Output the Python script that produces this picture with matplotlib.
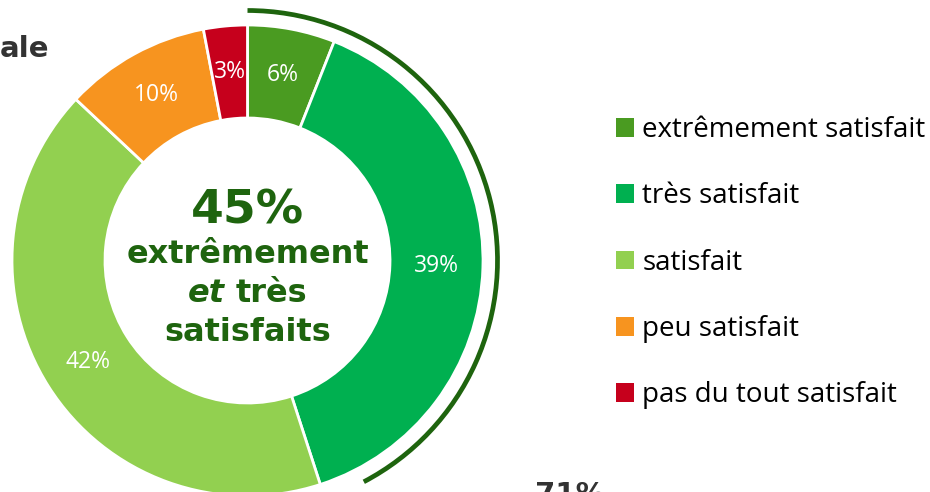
import matplotlib
matplotlib.use("Agg")
import matplotlib.pyplot as plt
from matplotlib.patches import Arc, Patch

# ---- data ----
categories = ["extrêmement satisfait", "très satisfait", "satisfait",
              "peu satisfait", "pas du tout satisfait"]
values = [6, 39, 42, 10, 3]
colors = ["#4A9B21", "#00B050", "#92D050", "#F7941F", "#C6001C"]
center_pct = "45%"
center_line1 = "extrêmement"
center_et = "et"
center_tres = "très"
center_line3 = "satisfaits"
title_fragment = "ale"
bottom_fragment = "71%"
arc_share = 42.3  # share of the circle covered by the highlight arc

W, H = 930, 492
fig = plt.figure(figsize=(W / 100, H / 100), dpi=100)
ax = fig.add_axes([0, 0, 1, 1])


def Y(y):
    return H - y


cx, cy = 247.5, Y(260.5)
R = 235.5
ring = 93
dark = "#1E640E"
gray = "#333333"

wedges, texts, autotexts = ax.pie(
    values, colors=colors, startangle=90, counterclock=False,
    radius=R, center=(cx, cy),
    wedgeprops=dict(width=ring, edgecolor="white", linewidth=2),
    autopct=lambda p: f"{p:.0f}%", pctdistance=189 / R,
    textprops=dict(color="white", fontsize=16.5, family="Open Sans"))
ax.set_xlim(0, W)
ax.set_ylim(0, H)
ax.set_aspect("equal")
ax.axis("off")

# highlight arc
ax.add_patch(Arc((cx, cy), 2 * 250, 2 * 250, theta1=90 - arc_share * 3.6,
                 theta2=90, color=dark, lw=3.4, capstyle="butt"))

# centre text
ctxt = dict(family="DejaVu Sans", weight="bold", color=dark, ha="center",
            va="baseline")
ax.text(cx, Y(223), center_pct, fontsize=34, **ctxt)
ax.text(cx, Y(263), center_line1, fontsize=23, **ctxt)
ax.text(cx, Y(341), center_line3, fontsize=23, **ctxt)
r = fig.canvas.get_renderer()
t_et = ax.text(0, Y(302), center_et, fontsize=23, family="DejaVu Sans",
               weight="bold", style="italic", color=dark, ha="left",
               va="baseline")
t_tr = ax.text(0, Y(302), center_tres, fontsize=23, family="DejaVu Sans",
               weight="bold", color=dark, ha="left", va="baseline")
w_et = t_et.get_window_extent(r).width
w_tr = t_tr.get_window_extent(r).width
gap = 0.33 * 23 * 100 / 72
x0 = cx - (w_et + gap + w_tr) / 2
t_et.set_x(x0)
t_tr.set_x(x0 + w_et + gap)

# cut-off fragments
ax.text(49, Y(57), title_fragment, fontsize=21, family="DejaVu Sans",
        weight="bold", color=gray, ha="right", va="baseline")
ax.text(569.5, Y(503), bottom_fragment, fontsize=21, family="DejaVu Sans",
        weight="bold", color=gray, ha="center", va="baseline")

# legend
handles = [Patch(facecolor=c, edgecolor="none") for c in colors]
fig.legend(handles, categories, loc="upper left",
           bbox_to_anchor=(616 / W, Y(116) / H), frameon=False,
           prop=dict(family="Open Sans", size=20),
           handlelength=0.65, handleheight=0.65, handletextpad=0.3,
           labelspacing=1.38, borderpad=0, borderaxespad=0)

fig.savefig("out.png", dpi=100)
